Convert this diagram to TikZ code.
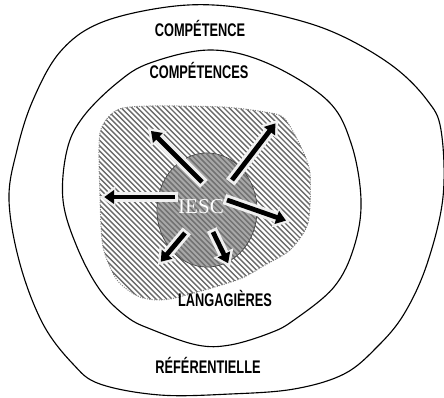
\documentclass[tikz,border=0pt]{standalone}
\usepackage{fontspec}
\setmainfont{Liberation Sans}
\newfontfamily\iescfont{Liberation Serif}
\usetikzlibrary{arrows.meta,shapes.geometric}
\usepackage{xcolor}
\definecolor{hatchgray}{HTML}{6A6A6A}
\definecolor{coregray}{HTML}{A8A8A8}
\definecolor{corestripegray}{HTML}{727272}
\definecolor{rimgray}{HTML}{F0F0F0}
\tikzset{
  ring/.style={draw=black, line width=0.8pt},
  zonelbl/.style={font=\bfseries\fontsize{13}{15}\selectfont, inner sep=0pt},
  zoneedge/.style={draw=gray, densely dotted, line width=0.7pt},
  hatchline/.style={draw=hatchgray, line width=1.0pt},
  corestripe/.style={draw=corestripegray, line width=1.1pt},
  corezone/.style={ellipse, draw=black!75, line width=0.5pt, minimum width=2.5cm, minimum height=2.85cm, fill=coregray},
  arrowrim/.style={-{Triangle[length=11pt,width=15pt]}, line width=7.6pt, draw=rimgray, shorten <=-2pt},
  arrowcore/.style={-{Triangle[length=7pt,width=9.5pt]}, line width=3.4pt, draw=black, shorten >=3pt}
}

\begin{document}
\begin{tikzpicture}[x=0.025cm, y=-0.025cm]
  \useasboundingbox (0,0) rectangle (444,397);
  % outer and middle rings
  \draw[ring] plot[smooth cycle, tension=0.6] coordinates {(167,7) (227,6) (294,19) (344,37) (394,67) (427,100) (441,130) (443,197) (427,264) (404,314) (377,347) (344,374) (294,389) (230,394) (160,395) (100,384) (73,364) (43,324) (20,264) (9,200) (17,150) (33,100) (60,52) (100,23)};
  \draw[ring] plot[smooth cycle, tension=0.6] coordinates {(210,50) (267,63) (327,100) (351,143) (361,200) (354,247) (334,287) (294,320) (270,333) (230,345) (197,345) (153,330) (127,317) (100,290) (77,247) (63,200) (67,150) (83,117) (117,83) (150,63)};
  % hatched zone
  \begin{scope}
    \clip plot[smooth cycle, tension=0.45] coordinates {(117,110) (150,106) (223,107) (265,112) (284,118) (300,145) (310,173) (308,223) (290,250) (265,265) (237,280) (170,299) (140,297) (117,280) (103,247) (100,197) (100,133)};
    \foreach \i in {-135,-129.6,...,320} \draw[hatchline] (\i,100) -- ++(210,210);
  \end{scope}
  \draw[zoneedge] plot[smooth cycle, tension=0.45] coordinates {(117,110) (150,106) (223,107) (265,112) (284,118) (300,145) (310,173) (308,223) (290,250) (265,265) (237,280) (170,299) (140,297) (117,280) (103,247) (100,197) (100,133)};
  % core
  \node[corezone] (core) at (207,210) {};
  \begin{scope}
    \clip (core.center) ellipse [x radius=1.24cm, y radius=1.415cm];
    \foreach \i in {25,30.4,...,265} \draw[corestripe] (\i,145) -- ++(130,130);
  \end{scope}
  % arrows
  \coordinate (s1) at (202,182); \coordinate (e1) at (148,128);
  \coordinate (s2) at (232,180); \coordinate (e2) at (278,120);
  \coordinate (s3) at (175,197); \coordinate (e3) at (100,197);
  \coordinate (s4) at (227,200); \coordinate (e4) at (290,222);
  \coordinate (s5) at (185,233); \coordinate (e5) at (158,265);
  \coordinate (s6) at (213,232); \coordinate (e6) at (230,267);
  \foreach \k in {1,...,6} {
    \draw[arrowrim] (s\k) -- (e\k);
    \draw[arrowcore] (s\k) -- (e\k);
  }
  \node[text=white, font=\iescfont\fontsize{15}{16}\selectfont, inner sep=0pt] (iesc) at (201,207) {IESC};
  % labels
  \node[zonelbl] (comp1) at (200,28) {\scalebox{0.7}[1]{COMPÉTENCE}};
  \node[zonelbl] (comp2) at (199,70) {\scalebox{0.7}[1]{COMPÉTENCES}};
  \node[zonelbl] (lang) at (225,298) {\scalebox{0.7}[1]{LANGAGIÈRES}};
  \node[zonelbl] (refer) at (208,365) {\scalebox{0.7}[1]{RÉFÉRENTIELLE}};
\end{tikzpicture}
\end{document}
